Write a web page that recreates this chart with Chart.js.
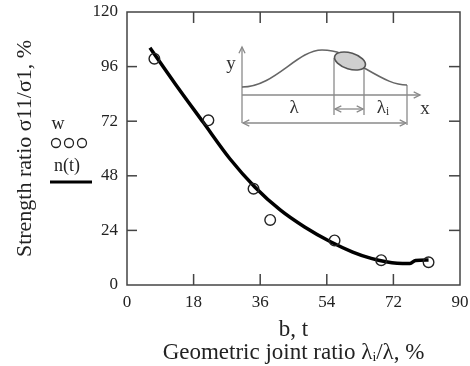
<!DOCTYPE html>
<html>
<head>
<meta charset="utf-8">
<script src="https://cdn.jsdelivr.net/npm/chart.js@4.4.0/dist/chart.umd.min.js"></script>
<style>
html,body{margin:0;padding:0;background:#fff}
</style>
</head>
<body>
<canvas id="graph" width="470" height="366"></canvas>
<script>
// measured points w
const wX=[7.4,22,34.2,38.7,56.1,68.7,81.5]
const wY=[99.5,72.4,42.3,28.6,19.6,10.9,10]
// fitted curve n(t)
const tX=[6.2,13,20.6,27.8,34.6,41.4,48,55,61,66,70,73,76.5,78,81.5]
const tY=[104.3,88.5,71.5,55.5,43,33,25.5,19,14.5,11.7,10.2,9.6,9.5,10.8,11]
const xTicks=[0,18,36,54,72,90]
const yTicks=[0,24,48,72,96,120]

Chart.defaults.font.family="'Liberation Serif', 'Times New Roman', serif"
Chart.defaults.color='#222'

function head(ctx,x,y,ang){
    const l=7,w=0.45
    ctx.beginPath()
    ctx.moveTo(x-l*Math.cos(ang-w),y-l*Math.sin(ang-w))
    ctx.lineTo(x,y)
    ctx.lineTo(x-l*Math.cos(ang+w),y-l*Math.sin(ang+w))
    ctx.stroke()
}
function line(ctx,x1,y1,x2,y2){
    ctx.beginPath();ctx.moveTo(x1,y1);ctx.lineTo(x2,y2);ctx.stroke()
}

const frame={
    id:'frame',
    afterDraw(chart){
        const ctx=chart.ctx
        const {left,right,top,bottom}=chart.chartArea
        const xs=chart.scales.x, ys=chart.scales.y
        ctx.save()
        ctx.strokeStyle='#444'
        ctx.lineWidth=1.5
        ctx.strokeRect(left,top,right-left,bottom-top)
        xTicks.slice(1,-1).forEach(v=>{
            const p=xs.getPixelForValue(v)
            line(ctx,p,bottom,p,bottom-11)
            line(ctx,p,top,p,top+11)
        })
        yTicks.slice(1,-1).forEach(v=>{
            const p=ys.getPixelForValue(v)
            line(ctx,left,p,left+10,p)
            line(ctx,right,p,right-11,p)
        })

        // legend labels at the left
        ctx.fillStyle='#222'
        ctx.textAlign='center'
        ctx.textBaseline='middle'
        ctx.font="18px 'Liberation Serif'"
        ctx.fillText('w',58,124)
        ctx.fillText('n(t)',67,166)
        ctx.lineWidth=1.3
        ctx.strokeStyle='#222';
        [56,69,82].forEach(cx=>{ctx.beginPath();ctx.arc(cx,143,4.5,0,Math.PI*2);ctx.stroke()})
        ctx.lineWidth=3
        ctx.strokeStyle='#000'
        line(ctx,50,182,92,182)

        // inset sketch
        ctx.strokeStyle='#8a8a8a'
        ctx.lineWidth=1.3
        line(ctx,242,123,242,47); head(ctx,242,47,-Math.PI/2)
        line(ctx,242,95,420,95); head(ctx,420,95,0)
        line(ctx,243,123,406,123); head(ctx,243,123,Math.PI); head(ctx,406,123,0)
        line(ctx,407,85,407,125)
        line(ctx,334,58,334,115)
        line(ctx,364,68,364,115)
        line(ctx,335,109,363,109); head(ctx,335,109,Math.PI); head(ctx,363,109,0)
        ctx.strokeStyle='#666'
        ctx.lineWidth=1.6
        ctx.beginPath()
        ctx.moveTo(242,87)
        ctx.bezierCurveTo(275,87,297,50,322,50)
        ctx.bezierCurveTo(345,50,352,62,366,69)
        ctx.bezierCurveTo(385,80,395,85,407,85)
        ctx.stroke()
        ctx.fillStyle='#cfcfcf'
        ctx.strokeStyle='#555'
        ctx.beginPath()
        ctx.ellipse(350,61,16,8,0.3,0,Math.PI*2)
        ctx.fill();ctx.stroke()
        ctx.fillStyle='#333'
        ctx.font="19px 'Liberation Serif'"
        ctx.fillText('y',231,64)
        ctx.fillText('λ',294,108)
        ctx.fillText('λᵢ',383,108)
        ctx.fillText('x',425,109)
        ctx.restore()
    }
}

new Chart('graph',{
    type:'scatter',
    data:{
        datasets:[{
            label:'w',
            data:wX.map((x,i)=>({x:x,y:wY[i]})),
            pointRadius:5.3,
            pointBorderWidth:1.4,
            pointBorderColor:'#222',
            pointBackgroundColor:'rgba(0,0,0,0)',
            showLine:false
        },{
            label:'n(t)',
            data:tX.map((x,i)=>({x:x,y:tY[i]})),
            showLine:true,
            pointRadius:0,
            borderColor:'#000',
            borderWidth:3.5,
            cubicInterpolationMode:'monotone'
        }]
    },
    options:{
        responsive:false,
        animation:false,
        layout:{padding:{top:12,right:10,left:0,bottom:0}},
        plugins:{legend:{display:false},tooltip:{enabled:false}},
        scales:{
            x:{
                min:xTicks[0],max:xTicks[xTicks.length-1],
                afterBuildTicks:s=>{s.ticks=xTicks.map(v=>({value:v}))},
                afterFit:s=>{s.height=81;s.paddingLeft=0;s.paddingRight=0},
                grid:{display:false,drawTicks:false},
                border:{display:false},
                ticks:{padding:7,font:{size:17},maxRotation:0},
                title:{display:true,text:['b, t','Geometric joint ratio λᵢ/λ, %'],font:{size:23,lineHeight:0.96},padding:{top:0,bottom:2.5},color:'#222'}
            },
            y:{
                min:yTicks[0],max:yTicks[yTicks.length-1],
                afterBuildTicks:s=>{s.ticks=yTicks.map(v=>({value:v}))},
                afterFit:s=>{s.width=127;s.paddingTop=0;s.paddingBottom=0},
                grid:{display:false,drawTicks:false},
                border:{display:false},
                ticks:{padding:9,font:{size:17}},
                title:{display:true,text:'Strength ratio σ11/σ1, %',font:{size:22,lineHeight:1.2},padding:{top:12,bottom:0},color:'#222'}
            }
        }
    },
    plugins:[frame]
})
</script>
</body>
</html>
